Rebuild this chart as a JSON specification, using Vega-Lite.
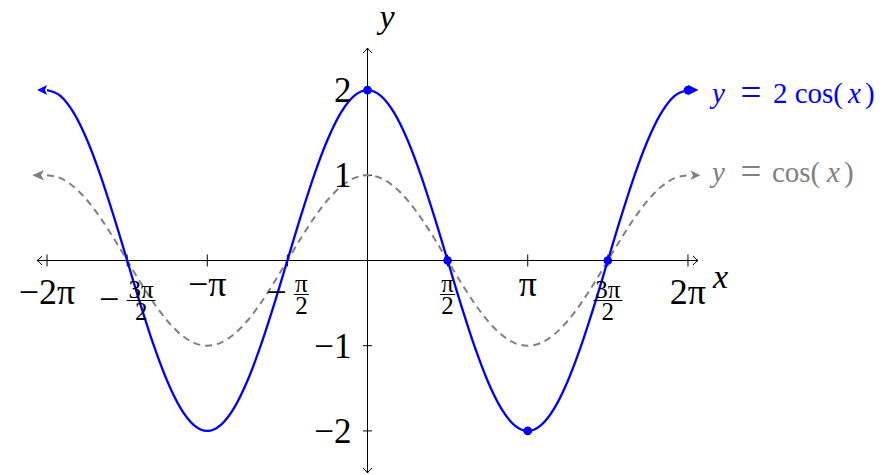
{
  "$schema": "https://vega.github.io/schema/vega-lite/v6.json",
  "width": 661,
  "height": 425,
  "autosize": "none",
  "padding": {"left": 37, "top": 48, "right": 197, "bottom": 2},
  "background": "white",
  "config": {
    "view": {"stroke": null},
    "axis": {"disable": true},
    "text": {"font": "Liberation Serif", "color": "black"},
    "point": {"opacity": 1}
  },
  "data": {"values": [{}]},
  "datasets": {
    "curve": [
      {"x": -6.2832, "c": 1, "c2": 2},
      {"x": -6.0214, "c": 0.9659, "c2": 1.9319},
      {"x": -5.7596, "c": 0.866, "c2": 1.7321},
      {"x": -5.4978, "c": 0.7071, "c2": 1.4142},
      {"x": -5.236, "c": 0.5, "c2": 1},
      {"x": -4.9742, "c": 0.2588, "c2": 0.5176},
      {"x": -4.7124, "c": 0, "c2": 0},
      {"x": -4.4506, "c": -0.2588, "c2": -0.5176},
      {"x": -4.1888, "c": -0.5, "c2": -1},
      {"x": -3.927, "c": -0.7071, "c2": -1.4142},
      {"x": -3.6652, "c": -0.866, "c2": -1.7321},
      {"x": -3.4034, "c": -0.9659, "c2": -1.9319},
      {"x": -3.1416, "c": -1, "c2": -2},
      {"x": -2.8798, "c": -0.9659, "c2": -1.9319},
      {"x": -2.618, "c": -0.866, "c2": -1.7321},
      {"x": -2.3562, "c": -0.7071, "c2": -1.4142},
      {"x": -2.0944, "c": -0.5, "c2": -1},
      {"x": -1.8326, "c": -0.2588, "c2": -0.5176},
      {"x": -1.5708, "c": 0, "c2": 0},
      {"x": -1.309, "c": 0.2588, "c2": 0.5176},
      {"x": -1.0472, "c": 0.5, "c2": 1},
      {"x": -0.7854, "c": 0.7071, "c2": 1.4142},
      {"x": -0.5236, "c": 0.866, "c2": 1.7321},
      {"x": -0.2618, "c": 0.9659, "c2": 1.9319},
      {"x": 0, "c": 1, "c2": 2},
      {"x": 0.2618, "c": 0.9659, "c2": 1.9319},
      {"x": 0.5236, "c": 0.866, "c2": 1.7321},
      {"x": 0.7854, "c": 0.7071, "c2": 1.4142},
      {"x": 1.0472, "c": 0.5, "c2": 1},
      {"x": 1.309, "c": 0.2588, "c2": 0.5176},
      {"x": 1.5708, "c": 0, "c2": 0},
      {"x": 1.8326, "c": -0.2588, "c2": -0.5176},
      {"x": 2.0944, "c": -0.5, "c2": -1},
      {"x": 2.3562, "c": -0.7071, "c2": -1.4142},
      {"x": 2.618, "c": -0.866, "c2": -1.7321},
      {"x": 2.8798, "c": -0.9659, "c2": -1.9319},
      {"x": 3.1416, "c": -1, "c2": -2},
      {"x": 3.4034, "c": -0.9659, "c2": -1.9319},
      {"x": 3.6652, "c": -0.866, "c2": -1.7321},
      {"x": 3.927, "c": -0.7071, "c2": -1.4142},
      {"x": 4.1888, "c": -0.5, "c2": -1},
      {"x": 4.4506, "c": -0.2588, "c2": -0.5176},
      {"x": 4.7124, "c": 0, "c2": 0},
      {"x": 4.9742, "c": 0.2588, "c2": 0.5176},
      {"x": 5.236, "c": 0.5, "c2": 1},
      {"x": 5.4978, "c": 0.7071, "c2": 1.4142},
      {"x": 5.7596, "c": 0.866, "c2": 1.7321},
      {"x": 6.0214, "c": 0.9659, "c2": 1.9319},
      {"x": 6.2832, "c": 1, "c2": 2}
    ],
    "dots": [
      {"x": 0, "y": 2},
      {"x": 1.5708, "y": 0},
      {"x": 3.1416, "y": -2},
      {"x": 4.7124, "y": 0},
      {"x": 6.2832, "y": 2}
    ],
    "xticks": [
      {"x": -6.2832}, {"x": -4.7124}, {"x": -3.1416}, {"x": -1.5708},
      {"x": 1.5708}, {"x": 3.1416}, {"x": 4.7124}, {"x": 6.2832}
    ],
    "yticks": [{"y": -2}, {"y": -1}, {"y": 1}, {"y": 2}],
    "twopi": [{"x": -6.2832, "t": "−2π"}, {"x": 6.2832, "t": "2π"}],
    "pi": [{"x": -3.1416, "t": "−π"}, {"x": 3.1416, "t": "π"}],
    "ylabels": [
      {"y": 2, "t": "2"}, {"y": 1, "t": "1"}, {"y": -1, "t": "−1"}, {"y": -2, "t": "−2"}
    ],
    "halfpi": [{"x": 1.5708, "t": ["π", "2"]}],
    "threehalfpi": [{"x": 4.7124, "t": ["3π", "2"]}],
    "neghalfpi": [{"x": -1.5708, "t": ["π", "2"]}],
    "negthreehalfpi": [{"x": -4.7124, "t": ["3π", "2"]}]
  },
  "layer": [
    {
      "mark": {"type": "rule", "color": "black", "strokeWidth": 1},
      "encoding": {"y": {"datum": 0, "type": "quantitative", "scale": {"domain": [-2.494, 2.494], "nice": false, "zero": false}}}
    },
    {
      "mark": {"type": "rule", "color": "black", "strokeWidth": 1},
      "encoding": {"x": {"datum": 0, "type": "quantitative", "scale": {"domain": [-6.48, 6.48], "nice": false, "zero": false}}}
    },
    {
      "mark": {"type": "point", "shape": "M 1 -0.9 Q 0.35 -0.15 0 0 Q 0.35 0.15 1 0.9", "size": 100, "filled": false, "stroke": "black", "strokeWidth": 1},
      "encoding": {"x": {"datum": -6.48}, "y": {"datum": 0}}
    },
    {
      "mark": {"type": "point", "shape": "M -1 -0.9 Q -0.35 -0.15 0 0 Q -0.35 0.15 -1 0.9", "size": 100, "filled": false, "stroke": "black", "strokeWidth": 1},
      "encoding": {"x": {"datum": 6.48}, "y": {"datum": 0}}
    },
    {
      "mark": {"type": "point", "shape": "M -0.9 1 Q -0.15 0.35 0 0 Q 0.15 0.35 0.9 1", "size": 100, "filled": false, "stroke": "black", "strokeWidth": 1},
      "encoding": {"x": {"datum": 0}, "y": {"datum": 2.494}}
    },
    {
      "mark": {"type": "point", "shape": "M -0.9 -1 Q -0.15 -0.35 0 0 Q 0.15 -0.35 0.9 -1", "size": 100, "filled": false, "stroke": "black", "strokeWidth": 1},
      "encoding": {"x": {"datum": 0}, "y": {"datum": -2.494}}
    },
    {
      "data": {"name": "xticks"},
      "mark": {"type": "rule", "color": "black", "strokeWidth": 1},
      "encoding": {"x": {"field": "x", "type": "quantitative"}, "y": {"datum": -0.07}, "y2": {"datum": 0.07}}
    },
    {
      "data": {"name": "yticks"},
      "mark": {"type": "rule", "color": "black", "strokeWidth": 1},
      "encoding": {"y": {"field": "y", "type": "quantitative"}, "x": {"datum": -0.09}, "x2": {"datum": 0.09}}
    },
    {
      "data": {"name": "curve"},
      "mark": {"type": "line", "stroke": "#808080", "strokeWidth": 2, "strokeDash": [7, 5], "interpolate": "monotone"},
      "encoding": {"x": {"field": "x", "type": "quantitative"}, "y": {"field": "c", "type": "quantitative"}}
    },
    {
      "data": {"name": "curve"},
      "mark": {"type": "line", "stroke": "#0000ff", "strokeWidth": 2.3, "interpolate": "monotone"},
      "encoding": {"x": {"field": "x", "type": "quantitative"}, "y": {"field": "c2", "type": "quantitative"}}
    },
    {
      "data": {"name": "dots"},
      "mark": {"type": "point", "shape": "circle", "filled": true, "color": "#0000ff", "size": 75},
      "encoding": {"x": {"field": "x", "type": "quantitative"}, "y": {"field": "y", "type": "quantitative"}}
    },
    {
      "mark": {"type": "point", "shape": "M -1 0 L 0 -0.5 L -0.2 0 L 0 0.5 Z", "size": 400, "filled": true, "color": "#0000ff"},
      "encoding": {"x": {"datum": -6.2832}, "y": {"datum": 2}}
    },
    {
      "mark": {"type": "point", "shape": "M 1 0 L 0 -0.5 L 0.2 0 L 0 0.5 Z", "size": 441, "filled": true, "color": "#0000ff"},
      "encoding": {"x": {"datum": 6.2832}, "y": {"datum": 2}}
    },
    {
      "mark": {"type": "point", "shape": "M -1 0 L -0.2 -0.35 L -0.4 0 L -0.2 0.35 Z", "size": 876, "filled": true, "color": "#808080"},
      "encoding": {"x": {"datum": -6.2832}, "y": {"datum": 1}}
    },
    {
      "mark": {"type": "point", "shape": "M 1 0 L 0.2 -0.38 L 0.4 0 L 0.2 0.38 Z", "size": 625, "filled": true, "color": "#808080"},
      "encoding": {"x": {"datum": 6.2832}, "y": {"datum": 1}}
    },
    {
      "data": {"name": "twopi"},
      "mark": {"type": "text", "fontSize": 36, "baseline": "alphabetic", "dy": 43},
      "encoding": {"x": {"field": "x", "type": "quantitative"}, "y": {"datum": 0}, "text": {"field": "t"}}
    },
    {
      "data": {"name": "pi"},
      "mark": {"type": "text", "fontSize": 36, "baseline": "alphabetic", "dy": 35},
      "encoding": {"x": {"field": "x", "type": "quantitative"}, "y": {"datum": 0}, "text": {"field": "t"}}
    },
    {
      "data": {"name": "ylabels"},
      "mark": {"type": "text", "fontSize": 35, "baseline": "alphabetic", "align": "right", "dx": -16, "dy": 12},
      "encoding": {"y": {"field": "y", "type": "quantitative"}, "x": {"datum": 0}, "text": {"field": "t"}}
    },
    {
      "data": {"name": "halfpi"},
      "mark": {"type": "text", "fontSize": 25, "baseline": "alphabetic", "lineHeight": 22, "dy": 31},
      "encoding": {"x": {"field": "x", "type": "quantitative"}, "y": {"datum": 0}, "text": {"field": "t"}}
    },
    {
      "data": {"name": "halfpi"},
      "mark": {"type": "point", "shape": "M -1 0 L 1 0", "size": 225, "filled": false, "stroke": "black", "strokeWidth": 1, "yOffset": 34},
      "encoding": {"x": {"field": "x", "type": "quantitative"}, "y": {"datum": 0}}
    },
    {
      "data": {"name": "threehalfpi"},
      "mark": {"type": "text", "fontSize": 25, "baseline": "alphabetic", "lineHeight": 22, "dy": 37},
      "encoding": {"x": {"field": "x", "type": "quantitative"}, "y": {"datum": 0}, "text": {"field": "t"}}
    },
    {
      "data": {"name": "threehalfpi"},
      "mark": {"type": "point", "shape": "M -1 0 L 1 0", "size": 841, "filled": false, "stroke": "black", "strokeWidth": 1, "yOffset": 40},
      "encoding": {"x": {"field": "x", "type": "quantitative"}, "y": {"datum": 0}}
    },
    {
      "data": {"name": "neghalfpi"},
      "mark": {"type": "text", "fontSize": 25, "baseline": "alphabetic", "lineHeight": 22, "dx": 14, "dy": 31},
      "encoding": {"x": {"field": "x", "type": "quantitative"}, "y": {"datum": 0}, "text": {"field": "t"}}
    },
    {
      "data": {"name": "neghalfpi"},
      "mark": {"type": "point", "shape": "M -1 0 L 1 0", "size": 225, "filled": false, "stroke": "black", "strokeWidth": 1, "xOffset": 14, "yOffset": 34},
      "encoding": {"x": {"field": "x", "type": "quantitative"}, "y": {"datum": 0}}
    },
    {
      "data": {"name": "neghalfpi"},
      "mark": {"type": "text", "text": "−", "fontSize": 36, "baseline": "alphabetic", "dx": -11, "dy": 43},
      "encoding": {"x": {"field": "x", "type": "quantitative"}, "y": {"datum": 0}}
    },
    {
      "data": {"name": "negthreehalfpi"},
      "mark": {"type": "text", "fontSize": 25, "baseline": "alphabetic", "lineHeight": 22, "dx": 14, "dy": 37},
      "encoding": {"x": {"field": "x", "type": "quantitative"}, "y": {"datum": 0}, "text": {"field": "t"}}
    },
    {
      "data": {"name": "negthreehalfpi"},
      "mark": {"type": "point", "shape": "M -1 0 L 1 0", "size": 841, "filled": false, "stroke": "black", "strokeWidth": 1, "xOffset": 14, "yOffset": 40},
      "encoding": {"x": {"field": "x", "type": "quantitative"}, "y": {"datum": 0}}
    },
    {
      "data": {"name": "negthreehalfpi"},
      "mark": {"type": "text", "text": "−", "fontSize": 36, "baseline": "alphabetic", "dx": -18, "dy": 50},
      "encoding": {"x": {"field": "x", "type": "quantitative"}, "y": {"datum": 0}}
    },
    {
      "mark": {"type": "text", "text": "x", "fontStyle": "italic", "fontSize": 34, "baseline": "alphabetic", "align": "left", "dx": 15, "dy": 27},
      "encoding": {"x": {"datum": 6.48}, "y": {"datum": 0}}
    },
    {
      "mark": {"type": "text", "text": "y", "fontStyle": "italic", "fontSize": 34, "baseline": "alphabetic", "align": "left", "dx": 12, "dy": -20},
      "encoding": {"x": {"datum": 0}, "y": {"datum": 2.494}}
    },
    {
      "mark": {"type": "text", "text": "y", "fontStyle": "italic", "fontSize": 29, "color": "#0000ff", "baseline": "alphabetic", "align": "left", "dx": 24, "dy": 13},
      "encoding": {"x": {"datum": 6.2832}, "y": {"datum": 2}}
    },
    {
      "mark": {"type": "text", "text": "=", "fontSize": 37, "color": "#0000ff", "baseline": "alphabetic", "align": "center", "dx": 63, "dy": 15},
      "encoding": {"x": {"datum": 6.2832}, "y": {"datum": 2}}
    },
    {
      "mark": {"type": "text", "text": "2 cos(", "fontSize": 29, "color": "#0000ff", "baseline": "alphabetic", "align": "left", "dx": 85, "dy": 13},
      "encoding": {"x": {"datum": 6.2832}, "y": {"datum": 2}}
    },
    {
      "mark": {"type": "text", "text": "x", "fontStyle": "italic", "fontSize": 29, "color": "#0000ff", "baseline": "alphabetic", "align": "left", "dx": 160, "dy": 13},
      "encoding": {"x": {"datum": 6.2832}, "y": {"datum": 2}}
    },
    {
      "mark": {"type": "text", "text": ")", "fontSize": 29, "color": "#0000ff", "baseline": "alphabetic", "align": "left", "dx": 177, "dy": 13},
      "encoding": {"x": {"datum": 6.2832}, "y": {"datum": 2}}
    },
    {
      "mark": {"type": "text", "text": "y", "fontStyle": "italic", "fontSize": 29, "color": "#808080", "baseline": "alphabetic", "align": "left", "dx": 24, "dy": 7},
      "encoding": {"x": {"datum": 6.2832}, "y": {"datum": 1}}
    },
    {
      "mark": {"type": "text", "text": "=", "fontSize": 37, "color": "#808080", "baseline": "alphabetic", "align": "center", "dx": 63, "dy": 9},
      "encoding": {"x": {"datum": 6.2832}, "y": {"datum": 1}}
    },
    {
      "mark": {"type": "text", "text": "cos(", "fontSize": 29, "color": "#808080", "baseline": "alphabetic", "align": "left", "dx": 84, "dy": 7},
      "encoding": {"x": {"datum": 6.2832}, "y": {"datum": 1}}
    },
    {
      "mark": {"type": "text", "text": "x", "fontStyle": "italic", "fontSize": 29, "color": "#808080", "baseline": "alphabetic", "align": "left", "dx": 139, "dy": 7},
      "encoding": {"x": {"datum": 6.2832}, "y": {"datum": 1}}
    },
    {
      "mark": {"type": "text", "text": ")", "fontSize": 29, "color": "#808080", "baseline": "alphabetic", "align": "left", "dx": 156, "dy": 7},
      "encoding": {"x": {"datum": 6.2832}, "y": {"datum": 1}}
    }
  ]
}
